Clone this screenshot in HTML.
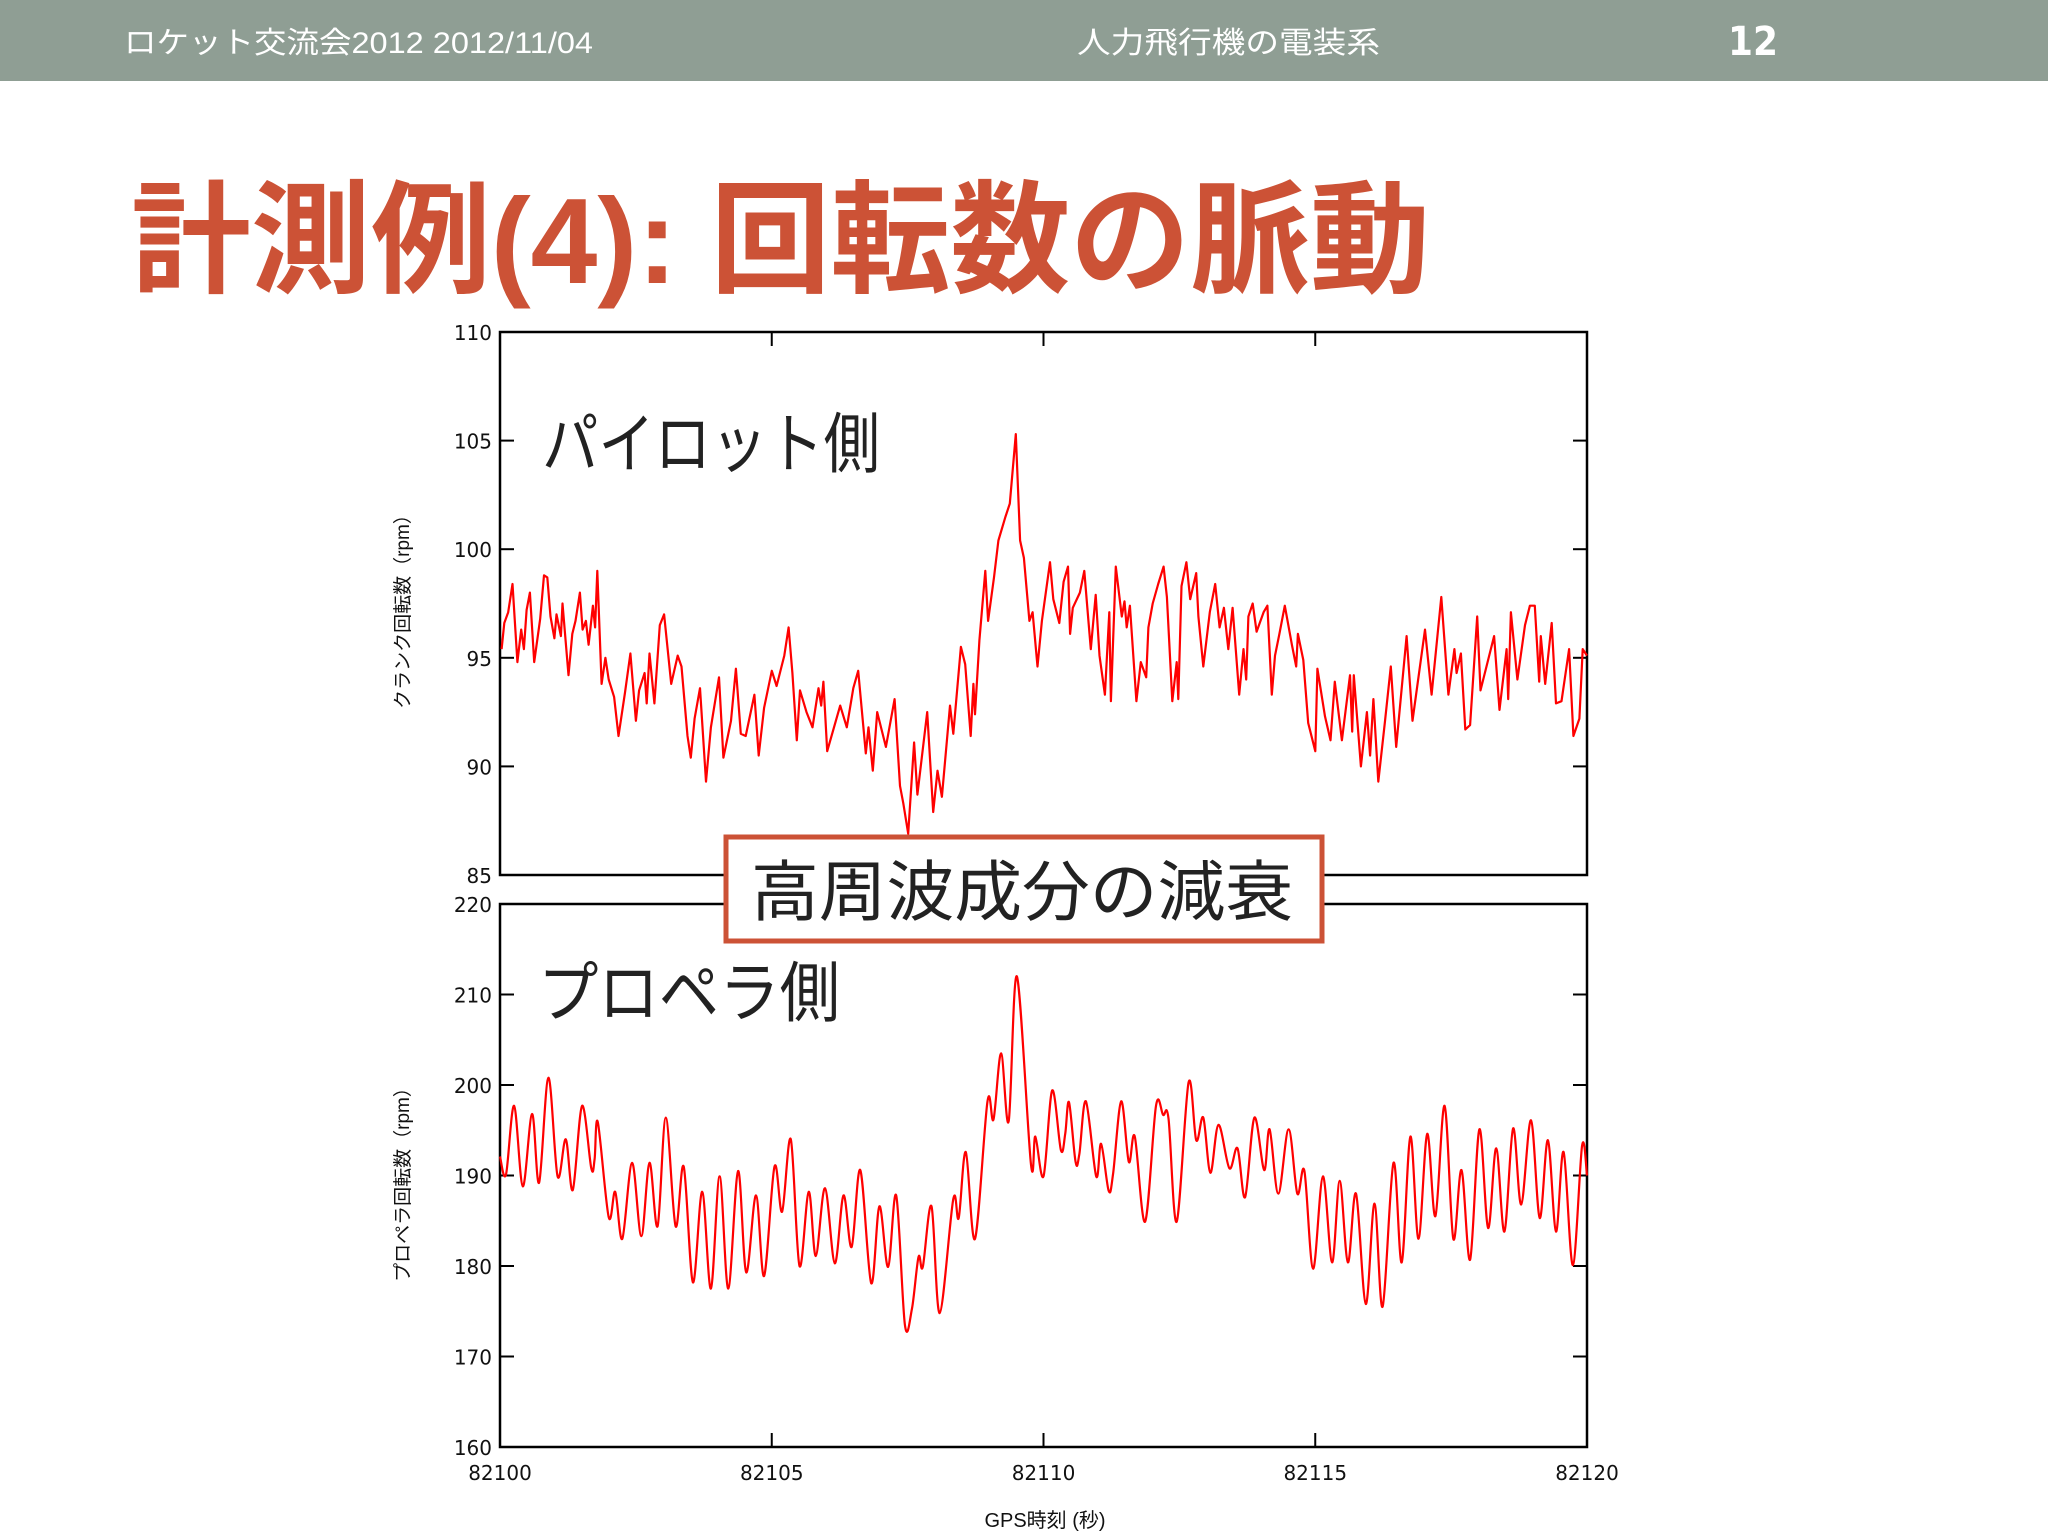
<!DOCTYPE html>
<html><head><meta charset="utf-8"><style>
html,body{margin:0;padding:0;background:#fff;}
svg{display:block;}
</style></head><body>
<svg id="slide" width="2048" height="1536" viewBox="0 0 2048 1536" xmlns="http://www.w3.org/2000/svg">
<rect x="0" y="0" width="2048" height="1536" fill="#fff"/>
<rect x="0" y="0" width="2048" height="81" fill="#8f9e94"/>
<text x="124" y="53" font-family="'Liberation Sans','Noto Sans CJK JP',sans-serif" font-size="30" fill="#fff" textLength="469" lengthAdjust="spacingAndGlyphs">ロケット交流会2012 2012/11/04</text>
<text x="1077" y="53" font-family="'Liberation Sans','Noto Sans CJK JP',sans-serif" font-size="30" fill="#fff" textLength="303" lengthAdjust="spacingAndGlyphs">人力飛行機の電装系</text>
<text x="1728" y="55" font-family="'DejaVu Sans',sans-serif" font-weight="bold" font-size="40" fill="#fff" textLength="50" lengthAdjust="spacingAndGlyphs">12</text>
<text x="131" y="283" font-family="'Liberation Sans','Noto Sans CJK JP',sans-serif" font-weight="bold" font-size="122" fill="#cc5236" textLength="1299" lengthAdjust="spacingAndGlyphs">計測例(4): 回転数の脈動</text>
<g id="chart"></g>
</svg>
<script>
const topTime=[0.03,0.08,0.15,0.23,0.32,0.39,0.44,0.49,0.55,0.63,0.74,0.81,0.87,0.93,1.0,1.04,1.12,1.15,1.26,1.33,1.39,1.47,1.52,1.58,1.63,1.71,1.75,1.79,1.87,1.94,2.0,2.1,2.18,2.3,2.4,2.5,2.56,2.66,2.7,2.75,2.84,2.94,3.02,3.15,3.27,3.34,3.45,3.51,3.58,3.68,3.79,3.88,4.03,4.11,4.25,4.34,4.43,4.52,4.68,4.76,4.86,5.0,5.09,5.23,5.31,5.38,5.46,5.52,5.64,5.75,5.86,5.91,5.95,6.02,6.26,6.38,6.5,6.59,6.73,6.78,6.86,6.94,7.1,7.26,7.36,7.42,7.51,7.62,7.68,7.86,7.97,8.05,8.13,8.28,8.34,8.48,8.56,8.66,8.71,8.74,8.82,8.93,8.98,9.09,9.17,9.3,9.38,9.49,9.57,9.64,9.74,9.8,9.89,9.97,10.12,10.18,10.29,10.37,10.45,10.49,10.54,10.67,10.75,10.83,10.87,10.96,11.03,11.13,11.21,11.24,11.33,11.44,11.49,11.53,11.59,11.71,11.79,11.89,11.93,12.01,12.11,12.21,12.27,12.37,12.45,12.48,12.54,12.63,12.7,12.81,12.85,12.94,13.06,13.16,13.24,13.32,13.4,13.48,13.6,13.68,13.73,13.77,13.85,13.92,14.05,14.12,14.2,14.26,14.34,14.44,14.57,14.65,14.68,14.78,14.87,15.0,15.04,15.18,15.28,15.36,15.49,15.64,15.68,15.71,15.84,15.95,16.01,16.07,16.16,16.28,16.39,16.49,16.68,16.79,17.02,17.14,17.32,17.45,17.56,17.6,17.68,17.76,17.85,17.98,18.04,18.29,18.39,18.52,18.55,18.6,18.72,18.86,18.95,19.04,19.12,19.15,19.23,19.35,19.43,19.53,19.67,19.75,19.86,19.92,20.0];
const topRpm=[95.4,96.6,97.1,98.4,94.8,96.3,95.4,97.2,98,94.8,96.8,98.8,98.7,96.9,95.9,97,96,97.5,94.2,96.1,96.7,98,96.3,96.7,95.6,97.4,96.4,99,93.8,95,94,93.2,91.4,93.4,95.2,92.1,93.5,94.3,92.9,95.2,92.9,96.5,97,93.8,95.1,94.6,91.4,90.4,92.2,93.6,89.3,91.8,94.1,90.4,92.1,94.5,91.5,91.4,93.3,90.5,92.7,94.4,93.7,95.1,96.4,94.3,91.2,93.5,92.5,91.8,93.6,92.8,93.9,90.7,92.8,91.8,93.6,94.4,90.6,91.8,89.8,92.5,90.9,93.1,89.1,88.3,86.9,91.1,88.7,92.5,87.9,89.8,88.6,92.8,91.5,95.5,94.7,91.4,93.8,92.4,95.8,99,96.7,98.7,100.4,101.5,102.1,105.3,100.4,99.6,96.7,97.1,94.6,96.7,99.4,97.7,96.6,98.5,99.2,96.1,97.3,98,99,96.6,95.4,97.9,95.1,93.3,97.1,93,99.2,96.9,97.6,96.4,97.4,93,94.8,94.1,96.4,97.5,98.4,99.2,97.8,93,94.8,93.1,98.3,99.4,97.7,98.9,96.9,94.6,97.1,98.4,96.4,97.3,95.4,97.3,93.3,95.4,94,96.9,97.5,96.2,97.1,97.4,93.3,95.1,96.1,97.4,95.6,94.6,96.1,94.9,92,90.7,94.5,92.3,91.2,93.9,91.2,94.2,91.6,94.2,90,92.5,90.5,93.1,89.3,92,94.6,90.9,96,92.1,96.3,93.3,97.8,93.3,95.4,94.3,95.2,91.7,91.9,96.9,93.5,96,92.6,95.4,93.1,97.1,94,96.5,97.4,97.4,93.9,96,93.8,96.6,92.9,93,95.4,91.4,92.2,95.4,95.1,92.9];
const botTime=[0,0.11,0.26,0.42,0.59,0.72,0.89,1.06,1.21,1.34,1.51,1.68,1.74,1.8,2.0,2.12,2.25,2.43,2.6,2.75,2.9,3.05,3.23,3.38,3.55,3.72,3.88,4.04,4.2,4.38,4.53,4.71,4.86,5.05,5.19,5.35,5.51,5.68,5.81,5.98,6.16,6.32,6.47,6.63,6.83,6.98,7.14,7.29,7.45,7.58,7.7,7.78,7.94,8.09,8.34,8.44,8.57,8.74,8.97,9.08,9.22,9.36,9.51,9.77,9.85,10.0,10.16,10.32,10.4,10.47,10.59,10.66,10.78,10.97,11.06,11.2,11.28,11.43,11.57,11.68,11.87,12.07,12.2,12.3,12.45,12.67,12.81,12.94,13.07,13.22,13.42,13.57,13.71,13.88,14.06,14.16,14.32,14.51,14.67,14.8,14.96,15.14,15.31,15.45,15.6,15.75,15.93,16.09,16.24,16.44,16.59,16.75,16.9,17.06,17.21,17.38,17.54,17.69,17.85,18.02,18.18,18.33,18.48,18.64,18.79,18.97,19.13,19.28,19.43,19.57,19.74,19.91,20.0];
const botRpm=[192.1,190.1,197.7,188.8,196.8,189.2,200.8,189.9,194,188.4,197.7,190.8,191.8,195.9,185.4,188.2,183,191.4,183.3,191.4,184.4,196.4,184.4,191,178.2,188.2,177.5,189.9,177.5,190.5,179.3,187.8,178.9,191,186,194,180,188.2,181.1,188.6,180.3,187.8,182.1,190.6,178.1,186.6,179.9,187.8,173.5,175.3,181,179.9,186.6,174.8,187.4,185.3,192.6,183,198.2,196.2,203.5,196,212,191.2,194.3,189.9,199.4,192.8,194.6,198.1,191.5,192.4,198.2,189.9,193.5,188.3,190.2,198.2,191.5,194.3,184.9,197.7,196.7,196.3,184.9,200.3,193.9,196.4,190.3,195.6,190.8,193,187.6,196.4,190.6,195.1,188,195.1,188,190.5,179.7,189.9,180.4,189.4,180.4,188,175.8,186.9,175.5,191.4,180.4,194.3,183,194.6,185.5,197.7,183,190.6,180.7,195.1,184.2,193,183.8,195.2,186.8,196.1,185.3,193.9,183.8,192.6,180.1,193.3,190];
const xTicks=[82100,82105,82110,82115,82120];
const topYTicks=[110,105,100,95,90,85];
const botYTicks=[220,210,200,190,180,170,160];
const X0=82100;

const NS='http://www.w3.org/2000/svg';
const chart=document.getElementById('chart');
function mk(tag,attrs,parent){const e=document.createElementNS(NS,tag);for(const k in attrs)e.setAttribute(k,attrs[k]);(parent||chart).appendChild(e);return e;}
const L=500,R=1587;
function xs(t){return L+(t)/20*(R-L);}
function xsAbs(v){return xs(v-X0);}
const topPanel={y0:332,y1:875,min:85,max:110};
const botPanel={y0:904,y1:1447,min:160,max:220};
function ys(p,v){return p.y1-(v-p.min)/(p.max-p.min)*(p.y1-p.y0);}

function drawPanel(p,ticks,name){
  const g=mk('g',{});
  
  
  const fr=mk('rect',{x:L,y:p.y0,width:R-L,height:p.y1-p.y0,fill:'none',stroke:'#000','stroke-width':2.5},g);
  
  
  ticks.forEach(v=>{
    const y=ys(p,v);
    const t1=mk('line',{x1:L,x2:L+14,y1:y,y2:y,stroke:'#000','stroke-width':2},g);
    
    
    mk('line',{x1:R-14,x2:R,y1:y,y2:y,stroke:'#000','stroke-width':2},g);
    const lb=mk('text',{x:492,y:y+8,'text-anchor':'end','font-family':"'DejaVu Sans',sans-serif",'font-size':20,fill:'#111'},g);
    lb.textContent=v;
    
    
  });
  xTicks.forEach(v=>{
    const x=xsAbs(v);
    const a=mk('line',{x1:x,x2:x,y1:p.y0,y2:p.y0+14,stroke:'#000','stroke-width':2},g);
    
    
    mk('line',{x1:x,x2:x,y1:p.y1-14,y2:p.y1,stroke:'#000','stroke-width':2},g);
  });
  return g;
}
drawPanel(topPanel,topYTicks,'crank');
drawPanel(botPanel,botYTicks,'propeller');

xTicks.forEach(v=>{
  const lb=mk('text',{x:xsAbs(v),y:1480,'text-anchor':'middle','font-family':"'DejaVu Sans',sans-serif",'font-size':20,fill:'#111'});
  lb.textContent=v;
  
  
});

let d='';
topTime.forEach((t,i)=>{d+=(i?'L':'M')+xs(t).toFixed(1)+','+ys(topPanel,topRpm[i]).toFixed(1);});
const l1=mk('path',{d:d,fill:'none',stroke:'#ff0000','stroke-width':2.2,'stroke-linejoin':'round'});



const pts=botTime.map((t,i)=>[xs(t),ys(botPanel,botRpm[i])]);
let d2='M'+pts[0][0]+','+pts[0][1];
for(let i=0;i<pts.length-1;i++){
  const p0=pts[Math.max(0,i-1)],p1=pts[i],p2=pts[i+1],p3=pts[Math.min(pts.length-1,i+2)];
  const c1=[p1[0]+(p2[0]-p0[0])/6,p1[1]+(p2[1]-p0[1])/6];
  const c2=[p2[0]-(p3[0]-p1[0])/6,p2[1]-(p3[1]-p1[1])/6];
  d2+='C'+c1[0].toFixed(1)+','+c1[1].toFixed(1)+' '+c2[0].toFixed(1)+','+c2[1].toFixed(1)+' '+p2[0].toFixed(1)+','+p2[1].toFixed(1);
}
const l2=mk('path',{d:d2,fill:'none',stroke:'#ff0000','stroke-width':2.2,'stroke-linejoin':'round'});



const ft="'Liberation Sans','Noto Sans CJK JP',sans-serif";
const yt1=mk('text',{x:0,y:0,'text-anchor':'middle','font-family':ft,'font-size':19,fill:'#111',transform:'translate(409,607) rotate(-90)'});
yt1.textContent='クランク回転数（rpm）';


const yt2=mk('text',{x:0,y:0,'text-anchor':'middle','font-family':ft,'font-size':19,fill:'#111',transform:'translate(409,1180) rotate(-90)'});
yt2.textContent='プロペラ回転数（rpm）';


const xt=mk('text',{x:1045,y:1527,'text-anchor':'middle','font-family':ft,'font-size':20,fill:'#111'});
xt.textContent='GPS時刻 (秒)';



const a1=mk('text',{x:542,y:467,'font-family':ft,'font-size':66,fill:'#222',textLength:338,lengthAdjust:'spacingAndGlyphs'});
a1.textContent='パイロット側';


const a2=mk('text',{x:538,y:1016,'font-family':ft,'font-size':66,fill:'#222',textLength:302,lengthAdjust:'spacingAndGlyphs'});
a2.textContent='プロペラ側';


const bx=mk('rect',{x:726,y:837,width:596,height:104,fill:'#fff',stroke:'#cc5236','stroke-width':5});


const bt=mk('text',{x:751,y:915,'font-family':ft,'font-size':66,fill:'#222',textLength:542,lengthAdjust:'spacingAndGlyphs'});
bt.textContent='高周波成分の減衰';


</script>
</body></html>
